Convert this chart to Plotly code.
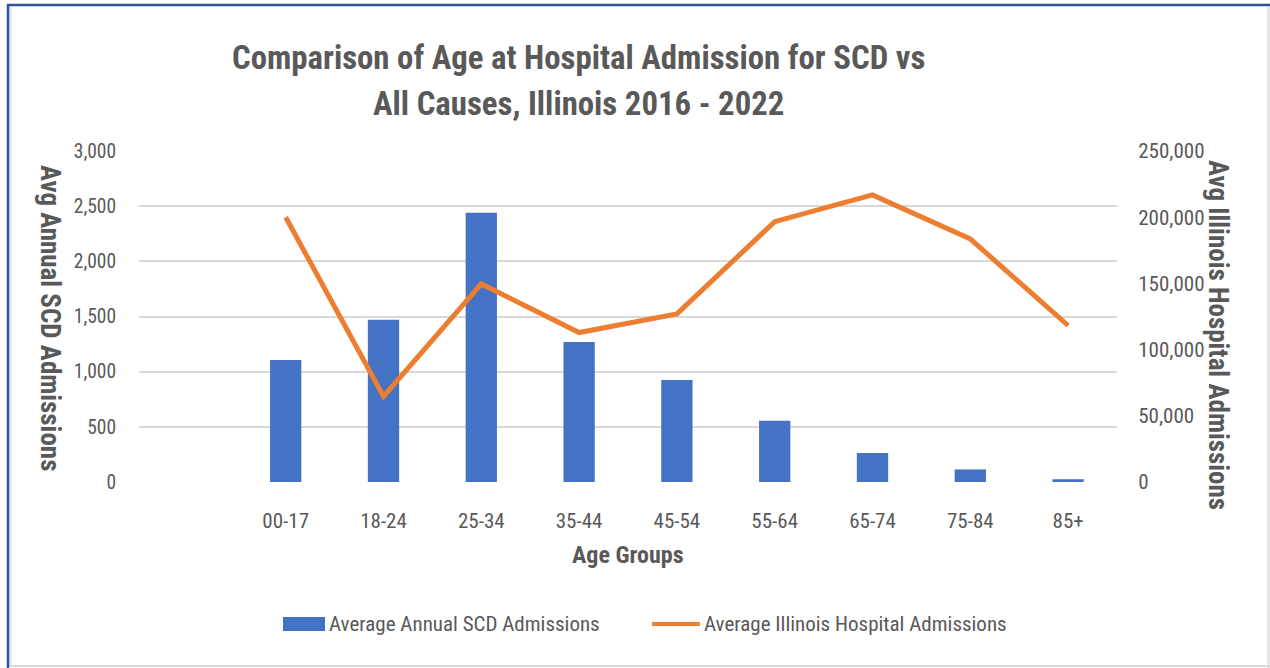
import plotly.graph_objects as go

# Age groups and averages (2016-2022)
age_groups = ["00-17", "18-24", "25-34", "35-44", "45-54", "55-64", "65-74", "75-84", "85+"]
scd_admissions = [1105, 1470, 2440, 1270, 925, 555, 263, 114, 25]
illinois_admissions = [200000, 64600, 149600, 112900, 127000, 196600, 216800, 183600, 118200]

left_ticks = [0, 500, 1000, 1500, 2000, 2500, 3000]
right_ticks = [0, 50000, 100000, 150000, 200000, 250000]

W, H = 1270, 668
L, R, T, B = 139, 153, 151, 186
PW, PH = W - L - R, H - T - B

FONT = "Liberation Sans Narrow, Roboto Condensed, DejaVu Sans Condensed, sans-serif"
GREY = "#595959"
BLUE = "#4472C4"
ORANGE = "#ED7D31"


def px(x):
    return (x - L) / PW


def py(y):
    return (H - B - y) / PH


# one empty slot precedes the first age group on the category axis
xpos = [i + 1 for i in range(len(age_groups))]

fig = go.Figure()
fig.add_trace(go.Bar(
    x=xpos, y=scd_admissions, name="Average Annual SCD Admissions",
    marker=dict(color=BLUE, line=dict(width=0)), width=0.32, yaxis="y",
))
fig.add_trace(go.Scatter(
    x=xpos, y=illinois_admissions, name="Average Illinois Hospital Admissions",
    mode="lines", line=dict(color=ORANGE, width=5), yaxis="y2",
))

fig.update_layout(
    width=W, height=H,
    margin=dict(l=L, r=R, t=T, b=B, pad=0),
    paper_bgcolor="white", plot_bgcolor="white",
    showlegend=False,
    font=dict(family=FONT, color=GREY, size=19),
    xaxis=dict(
        range=[-0.5, len(age_groups) + 0.5],
        tickvals=xpos, ticktext=age_groups,
        showgrid=False, zeroline=False, showline=False,
        ticks="outside", ticklen=20, tickcolor="rgba(0,0,0,0)",
        tickfont=dict(size=21, color=GREY),
    ),
    yaxis=dict(
        range=[0, 3000], tickvals=left_ticks, tickformat=",",
        gridcolor="#D9D9D9", gridwidth=1.5, zeroline=False, showline=False,
        ticks="outside", ticklen=18, tickcolor="rgba(0,0,0,0)",
        tickfont=dict(size=19.5, color=GREY),
    ),
    yaxis2=dict(
        range=[0, 250000], tickvals=right_ticks, tickformat=",",
        overlaying="y", side="right", showgrid=False, zeroline=False, showline=False,
        ticks="outside", ticklen=16, tickcolor="rgba(0,0,0,0)",
        tickfont=dict(size=21, color=GREY),
    ),
)

annotations = [
    dict(text="<b>Comparison of Age at Hospital Admission for SCD vs</b>",
         x=px(578), y=py(58), font=dict(size=32.8, color=GREY)),
    dict(text="<b>All Causes, Illinois 2016 - 2022</b>",
         x=px(578), y=py(104), font=dict(size=32.8, color=GREY)),
    dict(text="<b>Age Groups</b>", x=px(628), y=py(555), font=dict(size=24, color=GREY)),
    dict(text="<b>Avg Annual SCD Admissions</b>", x=px(50), y=py(318), textangle=90,
         font=dict(size=27, color=GREY)),
    dict(text="<b>Avg Illinois Hospital Admissions</b>", x=px(1218), y=py(335), textangle=90,
         font=dict(size=27, color=GREY)),
    dict(text="Average Annual SCD Admissions", x=px(327), y=py(624), xanchor="left",
         font=dict(size=21, color=GREY)),
    dict(text="Average Illinois Hospital Admissions", x=px(702), y=py(624), xanchor="left",
         font=dict(size=21, color=GREY)),
]
for a in annotations:
    a.setdefault("xanchor", "center")
    a.update(xref="paper", yref="paper", yanchor="middle", showarrow=False)
fig.update_layout(annotations=annotations)

shapes = [
    # legend keys
    dict(type="rect", x0=px(283), x1=px(325), y0=py(631), y1=py(617),
         fillcolor=BLUE, line=dict(width=0)),
    dict(type="line", x0=px(652), x1=px(700), y0=py(624), y1=py(624),
         line=dict(color=ORANGE, width=4)),
    # chart frame
    dict(type="line", x0=px(10.5), x1=px(10.5), y0=py(7), y1=py(666),
         line=dict(color="#E3E3E3", width=2)),
    dict(type="line", x0=px(1268.5), x1=px(1268.5), y0=py(7), y1=py(668),
         line=dict(color="#DADADA", width=2)),
    dict(type="line", x0=px(10), x1=px(1270), y0=py(666), y1=py(666),
         line=dict(color="#DADADA", width=2)),
    dict(type="line", x0=px(7), x1=px(1270), y0=py(5), y1=py(5),
         line=dict(color="#2F52A0", width=2.5)),
    dict(type="line", x0=px(8), x1=px(8), y0=py(4), y1=py(668),
         line=dict(color="#2F52A0", width=2.5)),
]
for s in shapes:
    s.update(xref="paper", yref="paper", layer="above")
fig.update_layout(shapes=shapes)

fig.write_html("out.html")
